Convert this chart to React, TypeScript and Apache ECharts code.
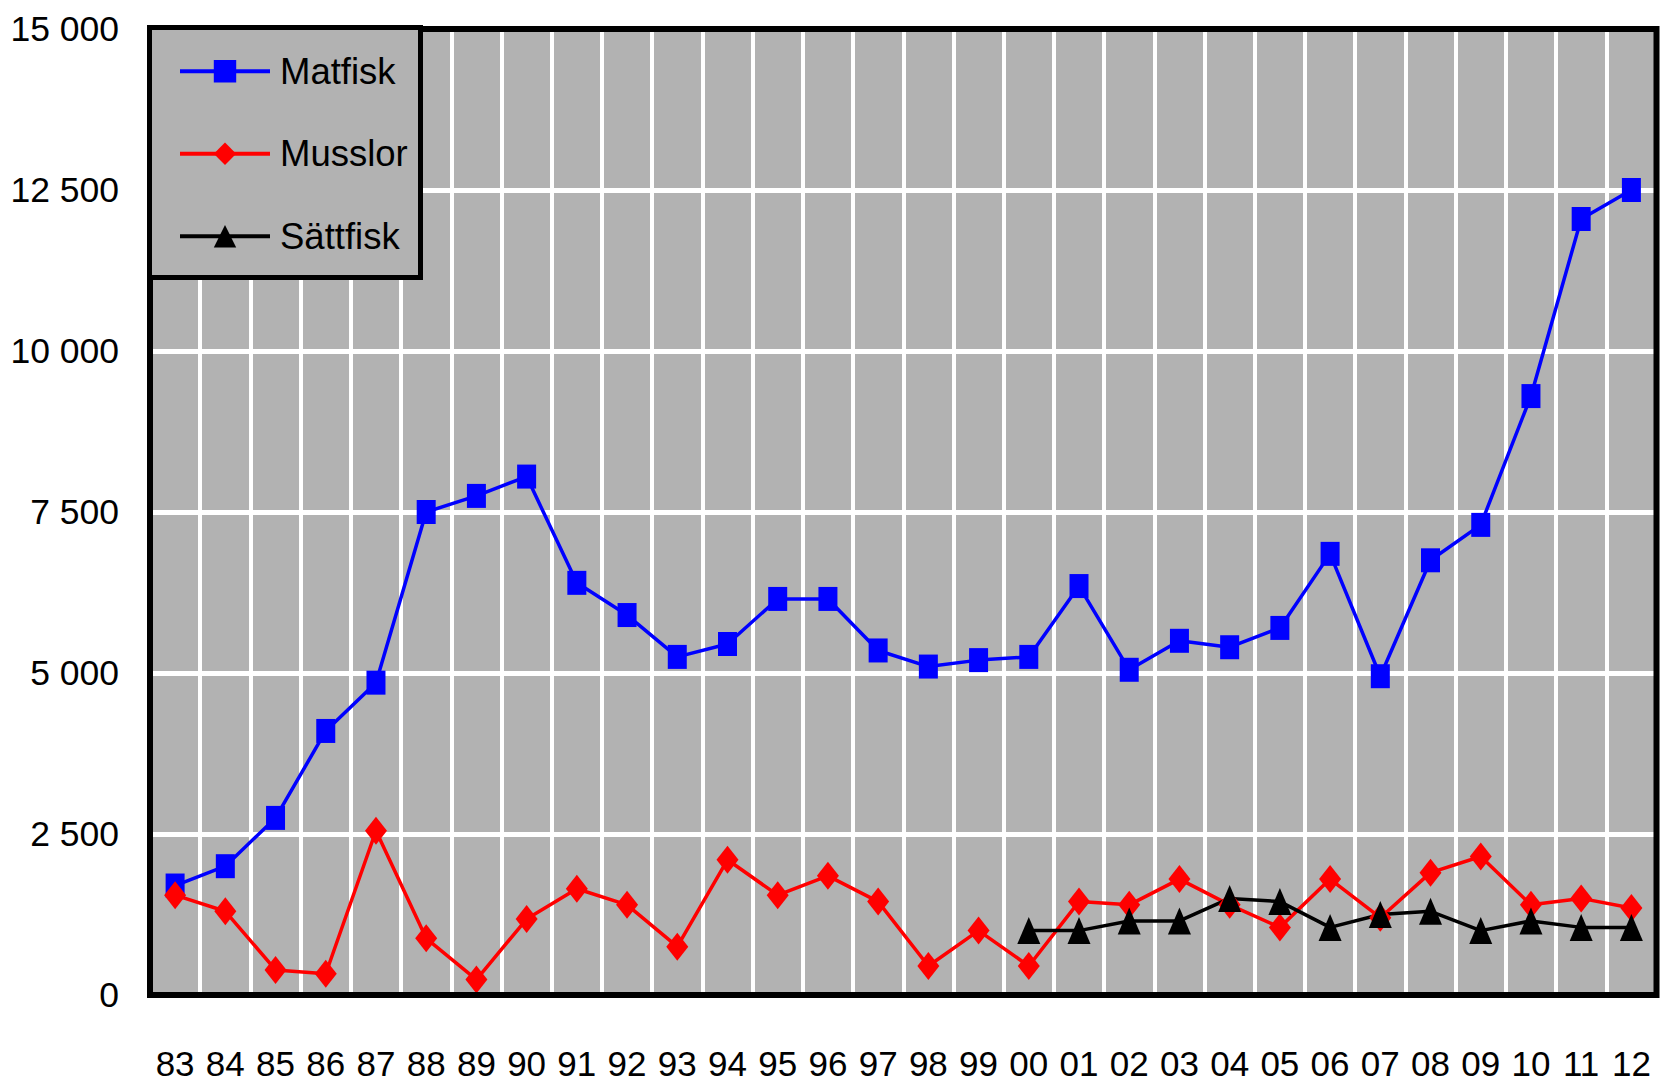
import React, { useEffect, useRef } from 'react';
import * as echarts from 'echarts';

const categories = ['83', '84', '85', '86', '87', '88', '89', '90', '91', '92', '93', '94', '95', '96', '97', '98', '99', '00', '01', '02', '03', '04', '05', '06', '07', '08', '09', '10', '11', '12'];

const matfisk = [1700, 2000, 2750, 4100, 4850, 7500, 7750, 8050, 6400, 5900, 5250, 5450, 6150, 6150, 5350, 5100, 5200, 5250, 6350, 5050, 5500, 5400, 5700, 6850, 4950, 6750, 7300, 9300, 12050, 12500];

const musslor = [1550, 1300, 390, 330, 2550, 880, 240, 1180, 1650, 1400, 750, 2100, 1550, 1850, 1450, 450, 1000, 450, 1450, 1400, 1800, 1400, 1050, 1800, 1200, 1900, 2150, 1400, 1500, 1350];

const sattfisk = [null, null, null, null, null, null, null, null, null, null, null, null, null, null, null, null, null, 1000, 1000, 1150, 1150, 1500, 1450, 1050, 1250, 1300, 1000, 1150, 1050, 1050];

const yTicks = [0, 2500, 5000, 7500, 10000, 12500, 15000];
const yTickLabels = ['0', '2 500', '5 000', '7 500', '10 000', '12 500', '15 000'];

const seriesNames = ['Matfisk', 'Musslor', 'Sättfisk'];
const seriesColors = ['#0000ff', '#ff0000', '#000000'];

const FONT = '"Liberation Sans", Arial, Helvetica, sans-serif';

const GRID = { left: 150, top: 29, width: 1506.5, height: 966 };

export default function App() {
  const ref = useRef<HTMLDivElement>(null);

  useEffect(() => {
    if (!ref.current) return;
    const chart = echarts.init(ref.current, null, { renderer: 'svg' });
    chart.setOption({
      animation: false,
      backgroundColor: '#ffffff',
      textStyle: { fontFamily: FONT },
      grid: {
        ...GRID,
        show: true,
        backgroundColor: '#b2b2b2',
        borderWidth: 0,
        containLabel: false,
        outerBoundsMode: 'none',
      },
      legend: {
        data: seriesNames,
        orient: 'vertical',
        left: 178,
        top: 52.75,
        padding: 0,
        itemWidth: 90,
        itemHeight: 28,
        itemGap: 45.5,
        z: 20,
        selectedMode: false,
        lineStyle: { width: 4 },
        textStyle: {
          fontSize: 36.5,
          color: '#000',
          fontFamily: FONT,
          padding: [0, 0, 0, 5],
        },
      },
      xAxis: {
        type: 'category',
        data: categories,
        boundaryGap: true,
        axisLine: { show: false },
        axisTick: { show: false },
        axisLabel: {
          interval: 0,
          margin: 51,
          fontSize: 35,
          color: '#000',
          fontFamily: FONT,
        },
        splitLine: { show: true, interval: 0, lineStyle: { color: '#ffffff', width: 4 } },
      },
      yAxis: {
        type: 'value',
        min: 0,
        max: 15000,
        interval: 2500,
        axisLine: { show: false },
        axisTick: { show: false },
        axisLabel: {
          margin: 31,
          fontSize: 35.5,
          color: '#000',
          fontFamily: FONT,
          formatter: (v: number) => {
            const i = yTicks.indexOf(v);
            return i >= 0 ? yTickLabels[i] : String(v);
          },
        },
        splitLine: { show: true, lineStyle: { color: '#ffffff', width: 5 } },
      },
      graphic: [
        {
          type: 'rect',
          z: 5,
          silent: true,
          shape: { x: GRID.left, y: GRID.top, width: GRID.width, height: GRID.height },
          style: { fill: 'none', stroke: '#000', lineWidth: 6 },
        },
        {
          type: 'rect',
          z: 10,
          silent: true,
          shape: { x: 149.5, y: 27.5, width: 271, height: 250 },
          style: { fill: '#b2b2b2', stroke: '#000', lineWidth: 5 },
        },
      ],
      series: [
        {
          name: seriesNames[0],
          type: 'line',
          data: matfisk,
          symbol: 'rect',
          symbolSize: [19, 24],
          color: seriesColors[0],
          lineStyle: { color: seriesColors[0], width: 3.5 },
          itemStyle: { color: seriesColors[0] },
          silent: true,
          emphasis: { disabled: true },
        },
        {
          name: seriesNames[1],
          type: 'line',
          data: musslor,
          symbol: 'diamond',
          symbolSize: [22, 28],
          color: seriesColors[1],
          lineStyle: { color: seriesColors[1], width: 3.5 },
          itemStyle: { color: seriesColors[1] },
          silent: true,
          emphasis: { disabled: true },
        },
        {
          name: seriesNames[2],
          type: 'line',
          data: sattfisk,
          symbol: 'triangle',
          symbolSize: [23, 27],
          color: seriesColors[2],
          lineStyle: { color: seriesColors[2], width: 3.5 },
          itemStyle: { color: seriesColors[2] },
          silent: true,
          emphasis: { disabled: true },
        },
      ],
    });
    return () => chart.dispose();
  }, []);

  return (
    <div
      ref={ref}
      style={{ position: 'fixed', left: 0, top: 0, width: 1663, height: 1084, background: '#fff' }}
    />
  );
}
